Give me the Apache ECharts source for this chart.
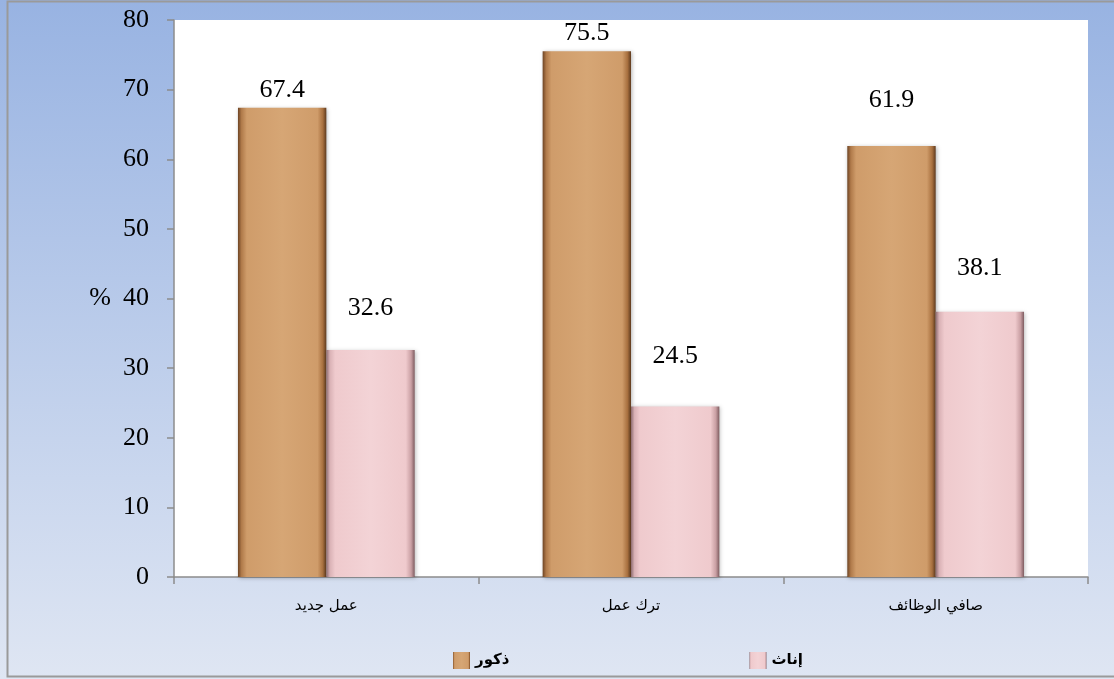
<!DOCTYPE html>
<html>
<head>
<meta charset="utf-8">
<script src="https://cdn.jsdelivr.net/npm/echarts@6/dist/echarts.min.js"></script>
<style>
  html, body { margin: 0; padding: 0; }
  #chart { width: 1114px; height: 679px; }
</style>
</head>
<body>
<div id="chart"></div>
<script>
const categories = ['عمل جديد', 'ترك عمل', 'صافي الوظائف'];
const maleValues = [67.4, 75.5, 61.9];
const femaleValues = [32.6, 24.5, 38.1];
const yTicks = [0, 10, 20, 30, 40, 50, 60, 70, 80];
const seriesNames = ['ذكور', 'إناث'];

// label distance above each bar (the original puts some labels higher)
const maleLabelGap = [5, 5, 33];
const femaleLabelGap = [29, 37, 31];

const chart = echarts.init(document.getElementById('chart'));

const maleFill = new echarts.graphic.LinearGradient(0, 0, 1, 0, [
  { offset: 0, color: '#6e4424' },
  { offset: 0.04, color: '#b07a4a' },
  { offset: 0.1, color: '#cf9c6a' },
  { offset: 0.5, color: '#d6a675' },
  { offset: 0.9, color: '#cf9c6a' },
  { offset: 0.96, color: '#a8703f' },
  { offset: 1, color: '#5e3a1e' },
]);
const femaleFill = new echarts.graphic.LinearGradient(0, 0, 1, 0, [
  { offset: 0, color: '#8e6c70' },
  { offset: 0.04, color: '#d9b1b5' },
  { offset: 0.1, color: '#efcacd' },
  { offset: 0.5, color: '#f3d3d6' },
  { offset: 0.9, color: '#efcacd' },
  { offset: 0.96, color: '#c99fa3' },
  { offset: 1, color: '#7e5c60' },
]);

const labelFont = { fontFamily: 'Liberation Serif', fontSize: 26, color: '#000' };

chart.setOption({
  animation: false,
  backgroundColor: new echarts.graphic.LinearGradient(0, 0, 0, 1, [
    { offset: 0, color: '#98b3e2' },
    { offset: 1, color: '#dfe6f3' },
  ]),
  graphic: [{
    type: 'rect',
    shape: { x: 7.5, y: 1.5, width: 1120, height: 675 },
    style: { fill: 'none', stroke: '#9a9a9a', lineWidth: 2 },
    silent: true,
  }, {
    type: 'rect',
    shape: { x: 174, y: 20, width: 914, height: 557 },
    style: { fill: '#ffffff' },
    silent: true,
    z: -1,
  }],
  grid: { left: 174, top: 20, right: 26, bottom: 102 },
  legend: {
    left: 448,
    top: 647,
    itemWidth: 17,
    itemHeight: 17,
    itemGap: 240,
    icon: 'rect',
    textStyle: { fontFamily: 'DejaVu Sans', fontSize: 15, fontWeight: 'bold', color: '#000' },
    data: seriesNames,
  },
  xAxis: {
    type: 'category',
    data: categories,
    axisLine: { lineStyle: { color: '#8c8c8c', width: 1.5 } },
    axisTick: { show: true, length: 7, lineStyle: { color: '#8c8c8c', width: 1.5 } },
    axisLabel: { fontFamily: 'DejaVu Sans', fontSize: 15, color: '#000', margin: 22 },
  },
  yAxis: {
    type: 'value',
    min: yTicks[0],
    max: yTicks[yTicks.length - 1],
    interval: yTicks[1] - yTicks[0],
    name: '%',
    nameLocation: 'middle',
    nameRotate: 0,
    nameGap: 63,
    nameTextStyle: { fontFamily: 'Liberation Serif', fontSize: 26, color: '#000' },
    axisLine: { show: true, lineStyle: { color: '#8c8c8c', width: 1.5 } },
    axisTick: { show: true, length: 7, lineStyle: { color: '#8c8c8c', width: 1.5 } },
    axisLabel: { fontFamily: 'Liberation Serif', fontSize: 26, color: '#000', margin: 25 },
    splitLine: { show: false },
  },
  series: [{
    name: seriesNames[0],
    type: 'bar',
    barGap: '0%',
    barCategoryGap: '42%',
    itemStyle: { color: maleFill, shadowColor: 'rgba(0,0,0,0.3)', shadowBlur: 4, shadowOffsetX: 1, shadowOffsetY: 1 },
    label: { show: true, position: 'top', ...labelFont },
    data: maleValues.map((v, i) => ({ value: v, label: { distance: maleLabelGap[i] } })),
  }, {
    name: seriesNames[1],
    type: 'bar',
    itemStyle: { color: femaleFill, shadowColor: 'rgba(0,0,0,0.25)', shadowBlur: 4, shadowOffsetX: 1, shadowOffsetY: 1 },
    label: { show: true, position: 'top', ...labelFont },
    data: femaleValues.map((v, i) => ({ value: v, label: { distance: femaleLabelGap[i] } })),
  }],
});
</script>
</body>
</html>
